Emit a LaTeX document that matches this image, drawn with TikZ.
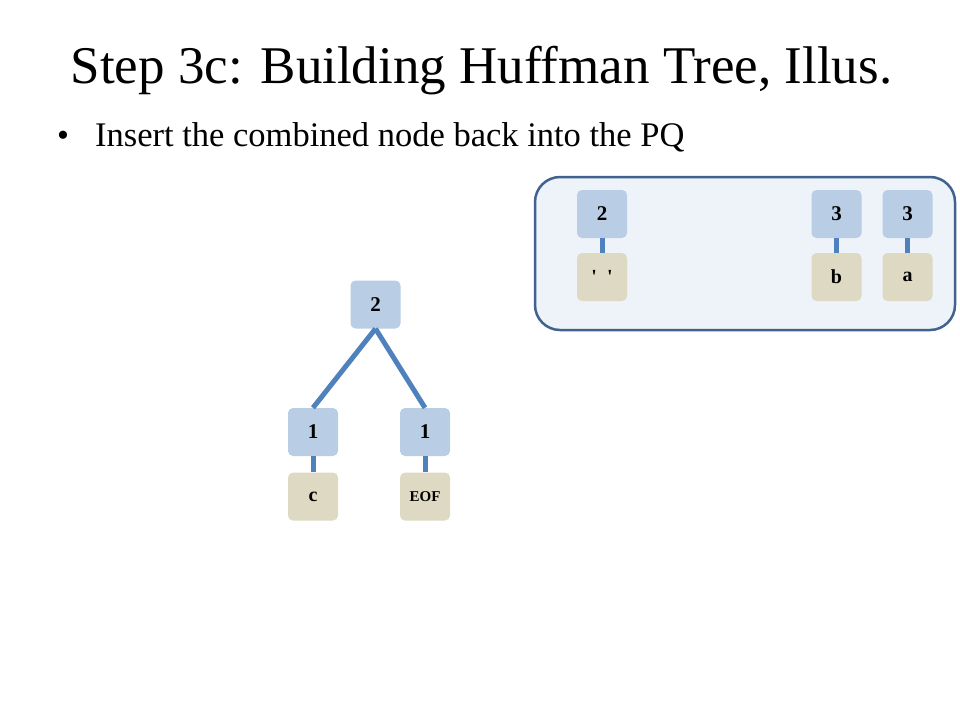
\documentclass[tikz,border=0pt]{standalone}
\usepackage{fontspec}
\setmainfont{Liberation Serif}
\usepackage{tikz}
\usetikzlibrary{positioning}

\definecolor{freqblue}{HTML}{B9CDE5}
\definecolor{leaftan}{HTML}{DDD9C3}
\definecolor{linkblue}{HTML}{4F81BD}
\definecolor{pqfill}{HTML}{EEF2F9}
\definecolor{pqedge}{HTML}{41618F}

\tikzset{
    freq/.style={fill=freqblue, rounded corners=5pt, minimum width=50pt, minimum height=48pt, inner sep=0pt, font=\fontsize{21}{21}\selectfont\bfseries},
    leaf/.style={fill=leaftan, rounded corners=5pt, minimum width=50pt, minimum height=48pt, inner sep=0pt, font=\fontsize{20}{20}\selectfont\bfseries},
    link/.style={linkblue, line width=5pt},
}

\begin{document}
\begin{tikzpicture}[x=1pt, y=-1pt]
    \useasboundingbox (0,0) rectangle (960,720);

    \node[anchor=base] (title) at (481.5,83) {\fontsize{53}{63}\selectfont Step 3c: Building Huffman Tree, Illus.};
    \node[anchor=base] (dot) at (63,146) {\fontsize{34}{40}\selectfont\textbullet};
    \node[anchor=base west, inner sep=0pt] (bullet) at (95,146) {\fontsize{34.5}{40}\selectfont Insert the combined node back into the PQ};

    % priority queue
    \draw[pqedge, fill=pqfill, line width=2.5pt, rounded corners=25pt] (535,177) rectangle (955,330);

    \node[freq] (pq1) at (602,214) {2};
    \node[leaf] (space) at (602,277) {\raisebox{-3pt}{\textquotesingle\hspace{10pt}\textquotesingle}};
    \node[freq] (pq2) at (836.5,214) {3};
    \node[leaf] (b) at (836.5,277) {b};
    \node[freq] (pq3) at (907.5,214) {3};
    \node[leaf] (a) at (907.5,277) {a};

    \draw[link] (pq1) -- (space);
    \draw[link] (pq2) -- (b);
    \draw[link] (pq3) -- (a);

    % combined tree
    \node[freq] (root) at (375.5,304.5) {2};
    \node[freq] (left) at (313,432) {1};
    \node[freq] (right) at (425,432) {1};
    \node[leaf] (c) at (313,496.5) {c};
    \node[leaf, font=\fontsize{15}{15}\selectfont\bfseries] (eof) at (425,496.5) {EOF};

    \draw[link] (root.south) -- (left.north);
    \draw[link] (root.south) -- (right.north);
    \draw[link] (left) -- (c);
    \draw[link] (right) -- (eof);
\end{tikzpicture}
\end{document}
